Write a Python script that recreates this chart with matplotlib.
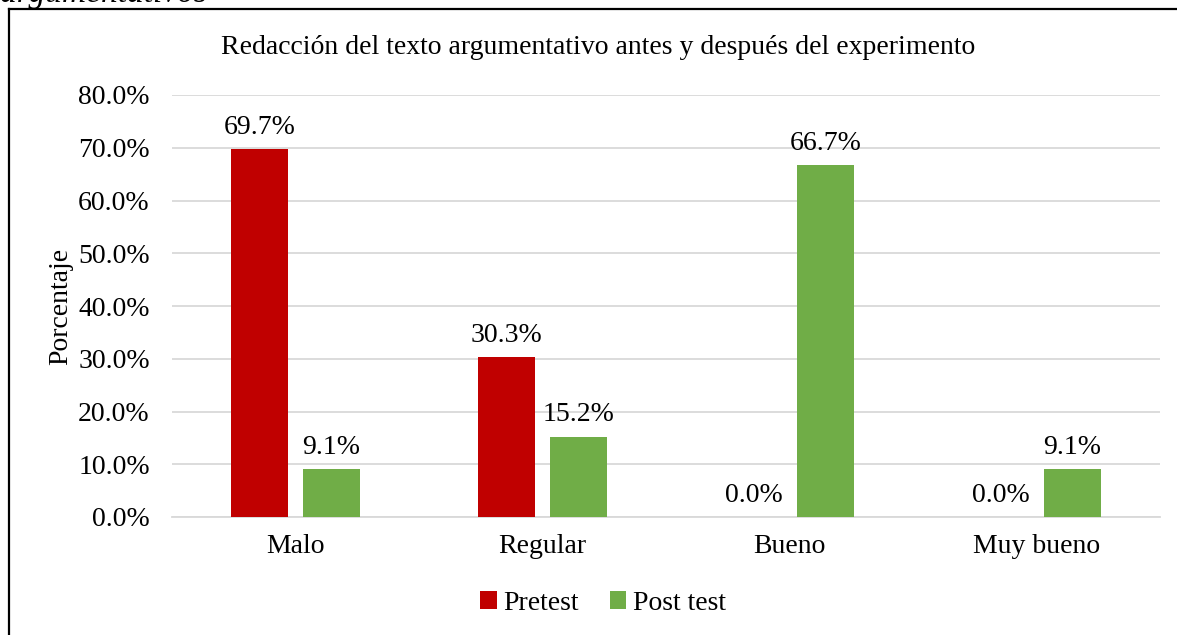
import matplotlib
matplotlib.use("Agg")
import matplotlib.pyplot as plt
from matplotlib.lines import Line2D
import numpy as np

categories = ["Malo", "Regular", "Bueno", "Muy bueno"]
pretest = [69.7, 30.3, 0.0, 0.0]
posttest = [9.1, 15.2, 66.7, 9.1]
series_names = ["Pretest", "Post test"]
title = "Redacción del texto argumentativo antes y después del experimento"

RED = "#C00000"
GREEN = "#70AD47"
GRID = "#D9D9D9"
FS = 20

plt.rcParams['font.family'] = ['Liberation Serif', 'DejaVu Serif']

fig = plt.figure(figsize=(11.77, 6.35), dpi=100)
W, H = 1177, 635
ax = fig.add_axes([172 / W, 1 - 517 / H, (1160 - 172) / W, (517 - 95) / H])

x = np.arange(len(categories))
bw = 0.23
off = 0.145
b1 = ax.bar(x - off, pretest, bw, color=RED, label=series_names[0], zorder=3)
b2 = ax.bar(x + off, posttest, bw, color=GREEN, label=series_names[1], zorder=3)

for bars in (b1, b2):
    for r in bars:
        h = r.get_height()
        ax.text(r.get_x() + r.get_width() / 2, h + 1.8, f"{h:.1f}%",
                ha='center', va='bottom', fontsize=FS)

ax.set_xlim(-0.5, len(categories) - 0.5)
ax.set_ylim(0, 80)
ax.set_yticks(np.arange(0, 81, 10))
ax.set_yticklabels([f"{v:.1f}%" for v in np.arange(0, 81, 10)], fontsize=FS)
ax.set_xticks(x)
ax.set_xticklabels(categories, fontsize=FS)
ax.tick_params(axis='both', length=0)
ax.tick_params(axis='y', pad=16)
ax.tick_params(axis='x', pad=12)
ax.yaxis.grid(True, color=GRID, linewidth=1.3, zorder=0)
for s in ['top', 'right', 'left']:
    ax.spines[s].set_visible(False)
ax.spines['bottom'].set_color(GRID)
ax.spines['bottom'].set_linewidth(1.3)

ax.set_ylabel("Porcentaje", fontsize=FS)
ax.yaxis.set_label_coords(-99 / (1160 - 172), 0.5)

fig.text(598 / W, 1 - 47 / H, title, ha='center', va='center', fontsize=FS)

fig.legend(handles=[b1, b2], labels=series_names, loc='center',
           bbox_to_anchor=(603 / W, 1 - 603 / H), ncol=2, frameon=False,
           fontsize=FS, handlelength=0.6, handleheight=0.6, handletextpad=0.25,
           columnspacing=1.1)

# outer frame: only top and left edges fall inside the picture
fig.add_artist(Line2D([9 / W, 9 / W], [0, 1 - 9 / H], transform=fig.transFigure,
                      color='black', linewidth=1.6))
fig.add_artist(Line2D([9 / W, 1], [1 - 9 / H, 1 - 9 / H], transform=fig.transFigure,
                      color='black', linewidth=1.6))

# caption text cut by the top edge
fig.text(0, 1 - 2 / H, "argumentativos", ha='left', va='baseline',
         fontsize=24, style='italic')

fig.savefig("out.png", dpi=100)
